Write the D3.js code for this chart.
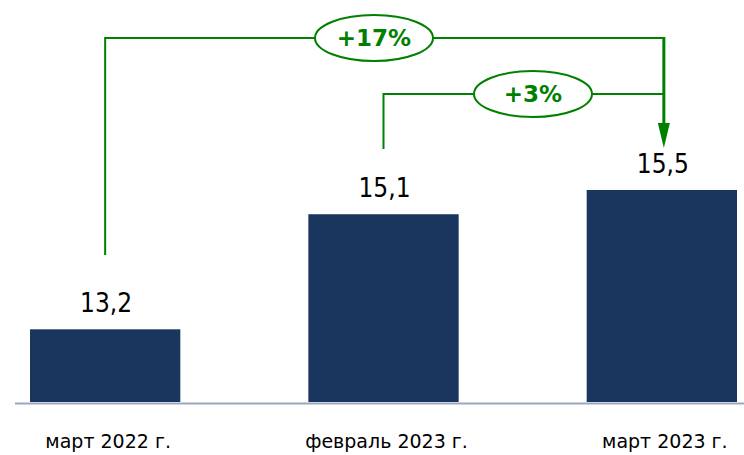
<!DOCTYPE html>
<html>
<head>
<meta charset="utf-8">
<script src="https://cdn.jsdelivr.net/npm/d3@7"></script>
<style>
  body { margin: 0; background: #fff; }
  svg { display: block; }
</style>
</head>
<body>
<script>
// data
var categories = ["март 2022 г.", "февраль 2023 г.", "март 2023 г."];
var values = [13.2, 15.1, 15.5];
var valueLabels = ["13,2", "15,1", "15,5"];
// growth brackets: from bar index -> to bar index
var growthFrom = [0, 1];
var growthTo = [2, 2];
var growthLabels = ["+17%", "+3%"];

var w = 744, h = 455;
var green = "#008000";

var svg = d3.select("body").append("svg")
  .attr("width", w)
  .attr("height", h);

var x = d3.scaleBand()
  .domain(categories)
  .range([30, 737])
  .paddingInner(0.46)
  .paddingOuter(0);

var y = d3.scaleLinear()
  .domain([12, 15.5])
  .range([402, 190]);

// baseline
svg.append("line")
  .attr("x1", 15).attr("x2", w)
  .attr("y1", 403.5).attr("y2", 403.5)
  .attr("stroke", "#9ba7c0")
  .attr("stroke-width", 2);

// bars
svg.selectAll("rect.bar")
  .data(values)
  .enter()
  .append("rect")
  .attr("class", "bar")
  .attr("x", function(d, i) { return x(categories[i]); })
  .attr("y", function(d) { return y(d); })
  .attr("width", x.bandwidth())
  .attr("height", function(d) { return y(12) - y(d); })
  .attr("fill", "#1a365f");

// value labels
svg.selectAll("text.val")
  .data(values)
  .enter()
  .append("text")
  .attr("class", "val")
  .attr("x", function(d, i) { return x(categories[i]) + x.bandwidth() / 2 + 1; })
  .attr("y", function(d) { return y(d) - 17; })
  .attr("text-anchor", "middle")
  .attr("font-family", "'DejaVu Sans Condensed', sans-serif")
  .attr("font-size", 26)
  .attr("fill", "#000")
  .text(function(d, i) { return valueLabels[i]; });

// category labels
svg.selectAll("text.cat")
  .data(categories)
  .enter()
  .append("text")
  .attr("class", "cat")
  .attr("x", function(d) { return x(d) + x.bandwidth() / 2 + 3; })
  .attr("y", 448)
  .attr("text-anchor", "middle")
  .attr("font-family", "'DejaVu Sans', sans-serif")
  .attr("font-size", 19)
  .attr("fill", "#000")
  .text(function(d) { return d; });

// growth brackets
var bracketY = [38, 94];
var bracketBottom = [255, 149];
var cx = function(i) { return x(categories[i]) + x.bandwidth() / 2; };

growthFrom.forEach(function(f, k) {
  var x1 = cx(f), x2 = cx(growthTo[k]) + 2, yy = bracketY[k];
  svg.append("path")
    .attr("d", "M" + x1 + "," + bracketBottom[k] + "V" + yy + "H" + x2)
    .attr("fill", "none")
    .attr("stroke", green)
    .attr("stroke-width", 2);
});

// arrow into last bar
var ax = cx(2) + 2;
svg.append("line")
  .attr("x1", ax).attr("x2", ax)
  .attr("y1", bracketY[0] - 1).attr("y2", 126)
  .attr("stroke", green)
  .attr("stroke-width", 3);
svg.append("path")
  .attr("d", "M" + (ax - 6) + ",123L" + (ax + 6) + ",123L" + ax + ",148Z")
  .attr("fill", green);

// ellipses with labels
var ellipseX = [374, 533];
growthLabels.forEach(function(t, k) {
  svg.append("ellipse")
    .attr("cx", ellipseX[k]).attr("cy", bracketY[k])
    .attr("rx", 59).attr("ry", 23)
    .attr("fill", "#fff")
    .attr("stroke", green)
    .attr("stroke-width", 2);
  svg.append("text")
    .attr("x", ellipseX[k]).attr("y", bracketY[k] + 8)
    .attr("text-anchor", "middle")
    .attr("font-family", "'DejaVu Sans', sans-serif")
    .attr("font-weight", "bold")
    .attr("font-size", 23)
    .attr("fill", green)
    .text(t);
});
</script>
</body>
</html>
